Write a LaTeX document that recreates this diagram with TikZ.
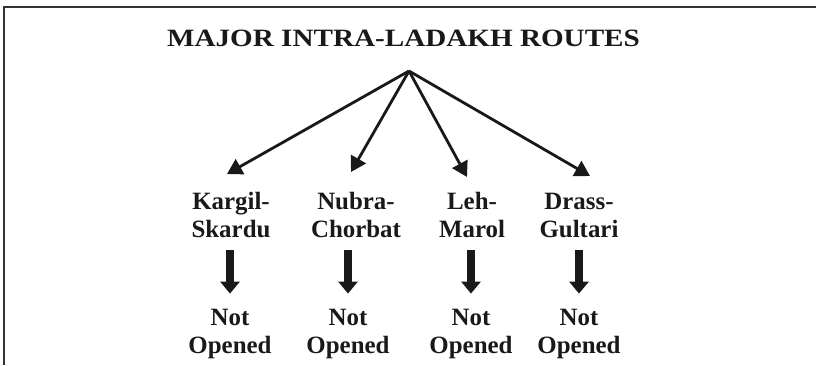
\documentclass[tikz,border=0pt]{standalone}
\usepackage{fontspec}
\setmainfont{Liberation Serif}
\usepackage{graphicx}
\usetikzlibrary{arrows.meta}
\begin{document}
\begin{tikzpicture}[x=1bp,y=-1bp,
  frame/.style={line width=1.8bp, draw=black!80},
  branch/.style={line width=2.8bp, draw=black!90, -{Triangle[length=15bp,width=17bp]}},
  block/.style={line width=8.7bp, draw=black!90, -{Triangle[length=12bp,width=19bp]}, shorten <=12bp, shorten >=15bp},
  route/.style={font=\fontsize{25}{28.5}\selectfont\bfseries, text=black!90, align=center, inner sep=0pt, anchor=base},
  status/.style={route}
]
\useasboundingbox (0,0) rectangle (816,365);

% frame edges
\draw[frame] (4,365) -- (4,7) -- (816,7);

% title
\node[anchor=base, inner sep=0pt, text=black!90] (title) at (403.5,46)
  {\scalebox{1.17}[1]{\fontsize{25}{25}\selectfont\bfseries MAJOR INTRA-LADAKH ROUTES}};

% branching point and arrow tips
\coordinate (apex) at (409,71);
\coordinate (kt) at (227,174);
\coordinate (nt) at (351,172);
\coordinate (lt) at (467,177);
\coordinate (dt) at (590,176);

% routes (base anchor sits on the second line)
\node[route] (k) at (231,237.7) {Kargil-\\Skardu};
\node[route] (n) at (356,237.7) {Nubra-\\Chorbat};
\node[route] (l) at (472,237.7) {Leh-\\Marol};
\node[route] (d) at (579,237.7) {Drass-\\Gultari};

% status
\node[status] (ko) at (230,353.5) {Not\\Opened};
\node[status] (no) at (348,353.5) {Not\\Opened};
\node[status] (lo) at (471,353.5) {Not\\Opened};
\node[status] (do) at (579,353.5) {Not\\Opened};

% branches
\draw[branch] (apex) -- (kt);
\draw[branch] (apex) -- (nt);
\draw[branch] (apex) -- (lt);
\draw[branch] (apex) -- (dt);

% block arrows
\draw[block] (k.south -| ko.north) -- (ko.north);
\draw[block] (n.south -| no.north) -- (no.north);
\draw[block] (l.south -| lo.north) -- (lo.north);
\draw[block] (d.south -| do.north) -- (do.north);
\end{tikzpicture}
\end{document}
